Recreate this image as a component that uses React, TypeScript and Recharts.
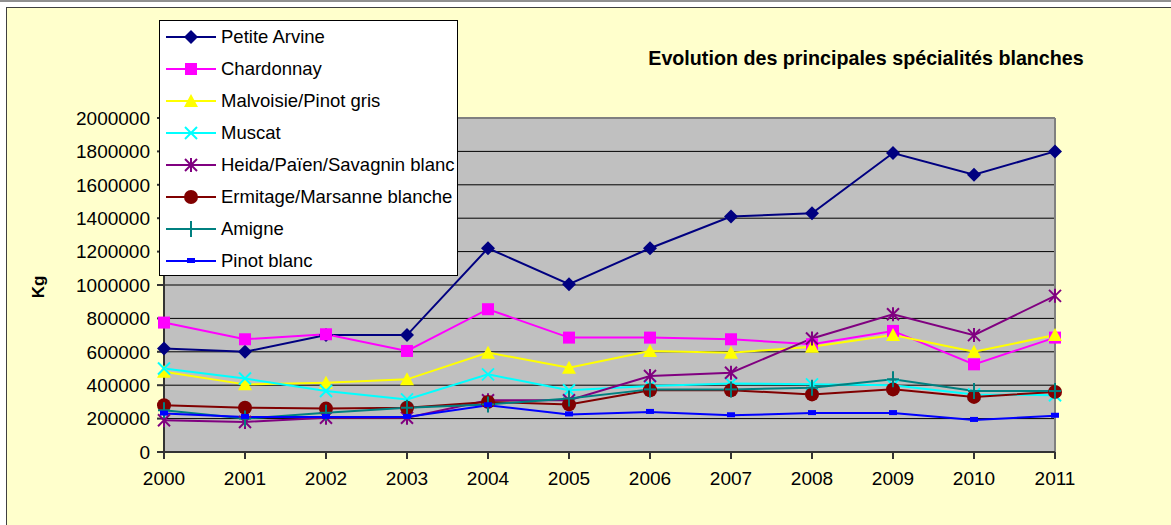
import { LineChart, Line, XAxis, YAxis, CartesianGrid, ReferenceLine } from "recharts";

const years = ["2000", "2001", "2002", "2003", "2004", "2005", "2006", "2007", "2008", "2009", "2010", "2011"];
const yTicks = [0, 200000, 400000, 600000, 800000, 1000000, 1200000, 1400000, 1600000, 1800000, 2000000];

const petiteArvine = [620000, 600000, 700000, 700000, 1220000, 1005000, 1220000, 1410000, 1430000, 1790000, 1660000, 1800000];
const chardonnay = [775000, 675000, 705000, 605000, 855000, 685000, 685000, 675000, 645000, 725000, 525000, 685000];
const malvoisie = [480000, 405000, 415000, 435000, 595000, 505000, 605000, 595000, 630000, 700000, 600000, 700000];
const muscat = [500000, 440000, 365000, 315000, 465000, 370000, 395000, 410000, 405000, 400000, 345000, 340000];
const heida = [190000, 180000, 205000, 205000, 310000, 310000, 455000, 475000, 680000, 825000, 700000, 935000];
const ermitage = [280000, 265000, 260000, 265000, 300000, 285000, 370000, 370000, 345000, 375000, 330000, 360000];
const amigne = [250000, 200000, 235000, 265000, 285000, 320000, 375000, 375000, 385000, 435000, 365000, 365000];
const pinotBlanc = [230000, 210000, 210000, 210000, 280000, 225000, 240000, 220000, 233000, 233000, 192000, 217000];

const FONT = "Arial, 'Liberation Sans', sans-serif";

type Marker = "diamond" | "square" | "triangle" | "x" | "star" | "circle" | "plus" | "dash";

const series: { key: string; name: string; color: string; values: number[]; marker: Marker }[] = [
  { key: "pa", name: "Petite Arvine", color: "#000080", values: petiteArvine, marker: "diamond" },
  { key: "ch", name: "Chardonnay", color: "#FF00FF", values: chardonnay, marker: "square" },
  { key: "mv", name: "Malvoisie/Pinot gris", color: "#FFFF00", values: malvoisie, marker: "triangle" },
  { key: "mu", name: "Muscat", color: "#00FFFF", values: muscat, marker: "x" },
  { key: "he", name: "Heida/Païen/Savagnin blanc", color: "#800080", values: heida, marker: "star" },
  { key: "er", name: "Ermitage/Marsanne blanche", color: "#800000", values: ermitage, marker: "circle" },
  { key: "am", name: "Amigne", color: "#008080", values: amigne, marker: "plus" },
  { key: "pb", name: "Pinot blanc", color: "#0000FF", values: pinotBlanc, marker: "dash" },
];

const data = years.map((y, i) => {
  const row: any = { year: y };
  series.forEach(s => (row[s.key] = s.values[i]));
  return row;
});

function drawMarker(m: Marker, cx: number, cy: number, color: string, key?: any) {
  switch (m) {
    case "diamond":
      return <polygon key={key} points={`${cx},${cy - 7} ${cx + 7},${cy} ${cx},${cy + 7} ${cx - 7},${cy}`} fill={color} />;
    case "square":
      return <rect key={key} x={cx - 6} y={cy - 6} width={12} height={12} fill={color} />;
    case "triangle":
      return <polygon key={key} points={`${cx},${cy - 7} ${cx + 7},${cy + 6} ${cx - 7},${cy + 6}`} fill={color} />;
    case "x":
      return (
        <g key={key} stroke={color} strokeWidth={2}>
          <line x1={cx - 6} y1={cy - 6} x2={cx + 6} y2={cy + 6} />
          <line x1={cx - 6} y1={cy + 6} x2={cx + 6} y2={cy - 6} />
        </g>
      );
    case "star":
      return (
        <g key={key} stroke={color} strokeWidth={2}>
          <line x1={cx - 6} y1={cy - 6} x2={cx + 6} y2={cy + 6} />
          <line x1={cx - 6} y1={cy + 6} x2={cx + 6} y2={cy - 6} />
          <line x1={cx} y1={cy - 7} x2={cx} y2={cy + 7} />
        </g>
      );
    case "circle":
      return <circle key={key} cx={cx} cy={cy} r={7} fill={color} />;
    case "plus":
      return (
        <g key={key} stroke={color} strokeWidth={2}>
          <line x1={cx} y1={cy - 8} x2={cx} y2={cy + 8} />
          <line x1={cx - 6} y1={cy} x2={cx + 6} y2={cy} />
        </g>
      );
    case "dash":
      return <rect key={key} x={cx - 4} y={cy - 3} width={8} height={5} fill={color} />;
  }
}

export default function App() {
  return (
    <div style={{ position: "absolute", left: 0, top: 0, width: 1171, height: 525, overflow: "hidden", background: "#fff" }}>
      <div style={{ position: "absolute", left: 0, top: 0, width: 1171, height: 2, background: "#909090" }} />
      <div
        style={{
          position: "absolute",
          left: 6,
          top: 7,
          width: 1200,
          height: 560,
          background: "#FFFFCC",
          border: "1px solid #404040",
        }}
      />

      <div style={{ position: "absolute", left: 0, top: 0 }}>
        <LineChart width={1171} height={525} data={data} margin={{ top: 118, right: 116, left: 0, bottom: 0 }}>
          <CartesianGrid fill="#C0C0C0" vertical={false} stroke="#000" strokeOpacity={1} />
          <XAxis
            dataKey="year"
            height={73}
            interval={0}
            tickSize={7}
            tickMargin={13}
            stroke="#333"
            strokeWidth={2}
            tick={{ fill: "#000", fontSize: 19, fontFamily: FONT }}
          />
          <YAxis
            width={164}
            domain={[0, 2000000]}
            ticks={yTicks}
            interval={0}
            tickSize={7}
            tickMargin={7}
            stroke="#333"
            strokeWidth={2}
            tick={{ fill: "#000", fontSize: 19, fontFamily: FONT }}
          />
          <ReferenceLine y={2000000} stroke="#808080" strokeWidth={2} />
          <ReferenceLine x="2011" stroke="#808080" strokeWidth={2} />
          {series.map(s => (
            <Line
              key={s.key}
              dataKey={s.key}
              name={s.name}
              type="linear"
              stroke={s.color}
              strokeWidth={2}
              isAnimationActive={false}
              activeDot={false}
              dot={(p: any) => drawMarker(s.marker, p.cx, p.cy, s.color, `${s.key}-${p.index}`)}
            />
          ))}
        </LineChart>
      </div>

      {/* legend */}
      <div
        style={{
          position: "absolute",
          left: 159,
          top: 20,
          width: 299,
          height: 256,
          boxSizing: "border-box",
          background: "#fff",
          border: "1px solid #000",
          fontFamily: FONT,
          fontSize: 18.5,
        }}
      >
        {series.map(s => (
          <div key={s.key} style={{ height: 32, display: "flex", alignItems: "center", whiteSpace: "nowrap" }}>
            <svg width={61} height={20} style={{ flex: "none" }}>
              <line x1={6} y1={10} x2={56} y2={10} stroke={s.color} strokeWidth={2} />
              {drawMarker(s.marker, 31, 10, s.color)}
            </svg>
            <span style={{ color: "#000" }}>{s.name}</span>
          </div>
        ))}
      </div>

      <div
        style={{
          position: "absolute",
          left: 566,
          top: 48,
          width: 600,
          textAlign: "center",
          fontFamily: FONT,
          fontWeight: "bold",
          fontSize: 19.7,
          lineHeight: "20px",
          color: "#000",
        }}
      >
        Evolution des principales spécialités blanches
      </div>

      <div
        style={{
          position: "absolute",
          left: 39,
          top: 287,
          transform: "translate(-50%, -50%) rotate(-90deg)",
          fontFamily: FONT,
          fontWeight: "bold",
          fontSize: 17,
          color: "#000",
        }}
      >
        Kg
      </div>
    </div>
  );
}
